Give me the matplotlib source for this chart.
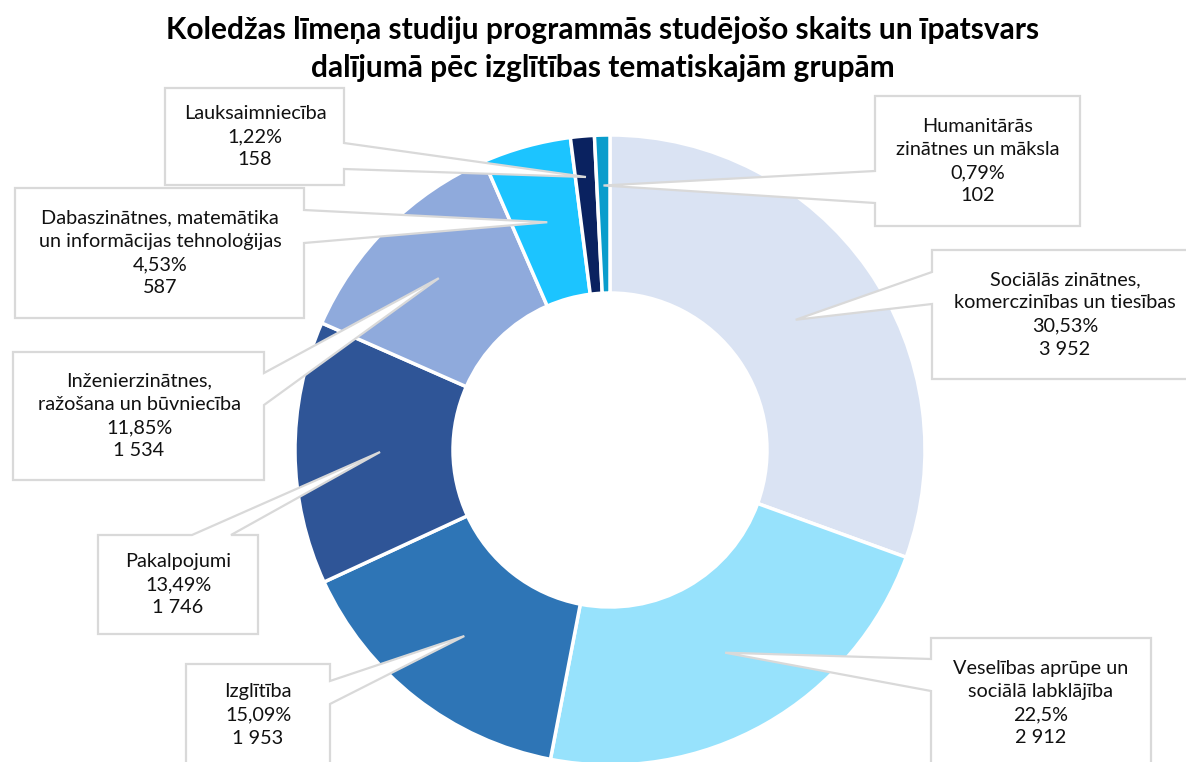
import matplotlib
matplotlib.use("Agg")
import matplotlib.pyplot as plt
import numpy as np
from matplotlib.patches import Polygon

# ---------------- data ----------------
title = ("Koledžas līmeņa studiju programmās studējošo skaits un īpatsvars\n"
         "dalījumā pēc izglītības tematiskajām grupām")
categories = [
    "Sociālās zinātnes,\nkomerczinības un tiesības",
    "Veselības aprūpe un\nsociālā labklājība",
    "Izglītība",
    "Pakalpojumi",
    "Inženierzinātnes,\nražošana un būvniecība",
    "Dabaszinātnes, matemātika\nun informācijas tehnoloģijas",
    "Lauksaimniecība",
    "Humanitārās\nzinātnes un māksla",
]
counts = [3952, 2912, 1953, 1746, 1534, 587, 158, 102]
colors = ["#DAE3F3", "#97E2FC", "#2E75B6", "#2F5597",
          "#8FAADC", "#1CC4FF", "#0A2260", "#0A9DCC"]

# ---------------- layout (pixel space) ----------------
W, H = 1186, 762
CX, CY = 610, 450          # donut centre (pixels, y down)
R_OUT, R_IN = 315, 157

# box: (x0, y0, x1, y1), tail side, tail base (a, b), text centre x, tip radius factor
callouts = [
    ((932, 250, 1198, 379), "left",  (272, 304), 1065, 0.72),
    ((931, 638, 1151, 768), "left",  (659, 691), 1041, 0.74),
    ((186, 664, 330, 766),  "right", (681, 704), 258, 0.75),
    ((98, 535, 258, 634),   "top",   (192, 231), 178, 0.73),
    ((13, 352, 264, 480),   "right", (373, 405), 139, 0.77),
    ((15, 188, 304, 318),   "right", (210, 243), 160, 0.75),
    ((165, 88, 344, 185),   "right", (143, 169), 255, 0.87),
    ((875, 96, 1080, 226),  "left",  (171, 203), 978, 0.84),
]

plt.rcParams["font.family"] = ["Lato", "DejaVu Sans"]

fig = plt.figure(figsize=(W / 100, H / 100), dpi=100)
ax = fig.add_axes([0, 0, 1, 1])

ax.pie(counts, colors=colors, startangle=90, counterclock=False,
       center=(CX, H - CY), radius=R_OUT,
       wedgeprops=dict(width=R_OUT - R_IN, edgecolor="white", linewidth=2.5))

ax.set_xlim(0, W)
ax.set_ylim(0, H)
ax.set_aspect("equal")
ax.axis("off")

total = sum(counts)
cum = np.concatenate([[0], np.cumsum(counts)[:-1]])


def fmt_pct(c):
    p = round(c / total * 100, 2)
    s = f"{p:.2f}".rstrip("0").rstrip(".")
    return s.replace(".", ",") + "%"


def fmt_int(c):
    return f"{c:,}".replace(",", " ")


def Y(y):
    return H - y


for i, (cat, c) in enumerate(zip(categories, counts)):
    (x0, y0, x1, y1), side, (a, b), tx, rf = callouts[i]
    ang = np.deg2rad(90 - 360 * (cum[i] + c / 2) / total)
    tipx = CX + rf * R_OUT * np.cos(ang)
    tipy = CY - rf * R_OUT * np.sin(ang)
    tip = (tipx, tipy)
    pts = [(x0, y0)]
    if side == "top":
        pts += [(a, y0), tip, (b, y0)]
    pts += [(x1, y0)]
    if side == "right":
        pts += [(x1, a), tip, (x1, b)]
    pts += [(x1, y1), (x0, y1)]
    if side == "left":
        pts += [(x0, b), tip, (x0, a)]
    poly = Polygon([(px, Y(py)) for px, py in pts], closed=True,
                   facecolor="white", edgecolor="#D9D9D9", linewidth=1.6,
                   joinstyle="miter", zorder=5, clip_on=True)
    ax.add_patch(poly)
    label = f"{cat}\n{fmt_pct(c)}\n{fmt_int(c)}"
    ax.text(tx, Y((y0 + y1) / 2), label, ha="center", va="center",
            multialignment="center", fontsize=14.3, color="#111111",
            linespacing=1.45, zorder=6)

fig.text(0.508, 1 - 49 / H, title, ha="center", va="center",
         fontsize=21.5, fontweight="bold", color="#000000", linespacing=1.45)

fig.savefig("out.png", dpi=100, facecolor="white")
